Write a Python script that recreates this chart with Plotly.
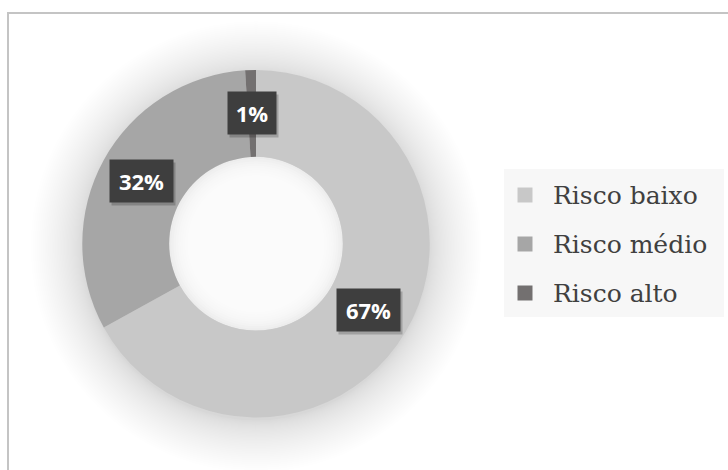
import math
import plotly.graph_objects as go

# Risk distribution
categories = ["Risco baixo", "Risco médio", "Risco alto"]
shares = [67, 32, 1]
slice_colors = ["#c8c8c8", "#a6a6a6", "#737070"]

W, H = 728, 470
CX, CY = 256.0, 243.7          # donut centre in pixels (y measured from top)
R_OUT = 173.7
HOLE = 0.5
R_IN = R_OUT * HOLE


def px(x):
    return x / W


def py(y):
    return 1 - y / H


fig = go.Figure()
fig.add_trace(go.Pie(
    labels=categories,
    values=shares,
    hole=HOLE,
    sort=False,
    direction="clockwise",
    rotation=0,
    marker=dict(colors=slice_colors, line=dict(width=0)),
    textinfo="none",
    hoverinfo="label+percent",
    showlegend=False,
    domain=dict(x=[px(CX - R_OUT), px(CX + R_OUT)],
                y=[py(CY + R_OUT), py(CY - R_OUT)]),
))

shapes = []


def circle(cx, cy, r, color, opacity):
    return dict(type="circle", xref="paper", yref="paper", layer="below",
                x0=px(cx - r), x1=px(cx + r), y0=py(cy + r), y1=py(cy - r),
                fillcolor=color, opacity=opacity, line=dict(width=0))


# soft outer shadow around the ring (denser close to the edge)
n_glow = 40
for k in range(n_glow, 0, -1):
    r = R_OUT + 52 * (k / n_glow) ** 1.6
    shapes.append(circle(CX, CY + 3, r, "black", 0.0022))
# hole: white centre with a faint inner shade at its rim
shapes.append(circle(CX, CY, R_IN, "white", 0.55))
for k in range(12):
    r = R_IN - 2 - k * 2.3
    shapes.append(circle(CX, CY, r, "white", 0.2))

# chart frame
shapes.append(dict(type="rect", xref="paper", yref="paper", layer="above",
                   x0=px(8), x1=px(W + 10), y0=py(H + 10), y1=py(13),
                   line=dict(color="#c4c4c4", width=2), fillcolor="rgba(0,0,0,0)"))

# legend panel
LEG_X0, LEG_X1, LEG_Y0, LEG_Y1 = 504, 724, 169, 317
shapes.append(dict(type="rect", xref="paper", yref="paper", layer="below",
                   x0=px(LEG_X0), x1=px(LEG_X1), y0=py(LEG_Y1), y1=py(LEG_Y0),
                   fillcolor="#f7f7f7", line=dict(width=0)))

annotations = []
row_y0, row_step = 195, 49
for i, (name, col) in enumerate(zip(categories, slice_colors)):
    yc = row_y0 + i * row_step
    shapes.append(dict(type="rect", xref="paper", yref="paper", layer="above",
                       x0=px(517.5), x1=px(532.5), y0=py(yc + 7.5), y1=py(yc - 7.5),
                       fillcolor=col, line=dict(width=0)))
    annotations.append(dict(xref="paper", yref="paper", x=px(551), y=py(yc),
                            xanchor="left", yanchor="middle", showarrow=False,
                            text=name,
                            font=dict(family="DejaVu Serif", size=25, color="#404040")))

# percentage labels placed at the middle of each slice's ring
total = sum(shares)
r_mid = (R_OUT + R_IN) / 2
cum = 0
for v in shares:
    theta = 2 * math.pi * (cum + v / 2) / total
    cum += v
    x = CX + r_mid * math.sin(theta)
    y = CY - r_mid * math.cos(theta)
    txt = f"{round(100 * v / total)}%"
    w = 47 if len(txt) > 2 else 32
    # drop shadow of the label box
    annotations.append(dict(xref="paper", yref="paper", x=px(x + 2), y=py(y + 3),
                            xanchor="center", yanchor="middle", showarrow=False,
                            text=" ", width=w, height=26, borderpad=8,
                            bgcolor="rgba(0,0,0,0.2)",
                            font=dict(size=22)))
    annotations.append(dict(xref="paper", yref="paper", x=px(x), y=py(y),
                            xanchor="center", yanchor="middle", showarrow=False,
                            text=f"<b>{txt}</b>", width=w, height=26, borderpad=8,
                            bgcolor="#3e3e3e",
                            font=dict(family="Open Sans", size=22, color="white")))

fig.update_layout(
    width=W, height=H,
    margin=dict(l=0, r=0, t=0, b=0),
    paper_bgcolor="white",
    plot_bgcolor="white",
    shapes=shapes,
    annotations=annotations,
    showlegend=False,
)

fig.write_html("out.html")
